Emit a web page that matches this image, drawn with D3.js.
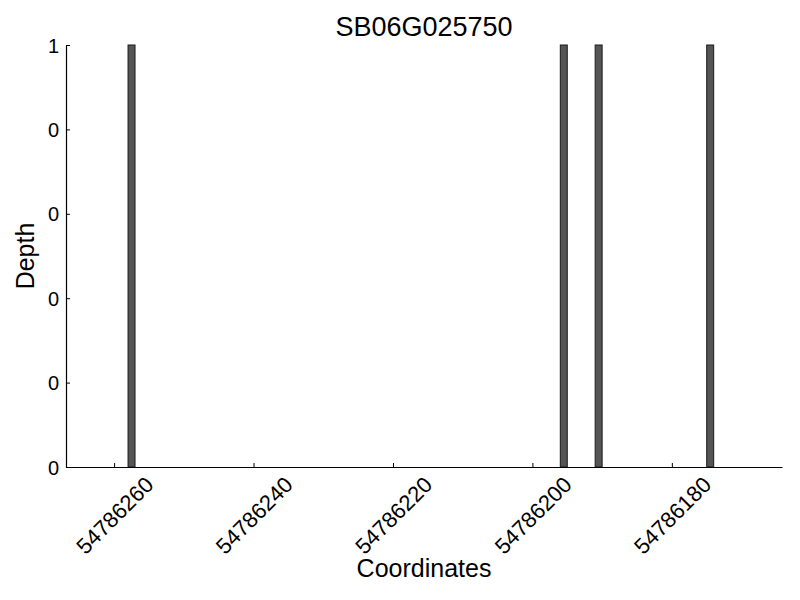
<!DOCTYPE html>
<html>
<head>
<meta charset="utf-8">
<script src="https://cdn.jsdelivr.net/npm/d3@7"></script>
<style>
  body { margin: 0; background: #fff; }
  text { font-family: "Liberation Sans", Arial, sans-serif; fill: #000; }
</style>
</head>
<body>
<div id="chart"></div>
<script>
// reads depth at each coordinate (bar width 1 bp)
var positions = [54786257, 54786195, 54786190, 54786174];
var depths = [1, 1, 1, 1];
var xTicks = [54786260, 54786240, 54786220, 54786200, 54786180];
var yTicks = [0, 0.2, 0.4, 0.6, 0.8, 1];
var xDomain = [54786266.9, 54786164.2];

var margin = {top: 45, right: 18, bottom: 133, left: 66};
var width = 800 - margin.left - margin.right;
var height = 600 - margin.top - margin.bottom;

var svg = d3.select("#chart").append("svg")
    .attr("width", 800)
    .attr("height", 600);

var g = svg.append("g")
    .attr("transform", "translate(" + margin.left + "," + margin.top + ")");

var x = d3.scaleLinear().domain(xDomain).range([0, width]);
var y = d3.scaleLinear().domain([0, 1]).range([height, 0]);

var data = positions.map(function(p, i) { return {pos: p, depth: depths[i]}; });

g.selectAll(".bar")
    .data(data).enter().append("rect")
    .attr("class", "bar")
    .attr("x", function(d) { return x(d.pos + 1); })
    .attr("width", function(d) { return x(d.pos) - x(d.pos + 1); })
    .attr("y", function(d) { return y(d.depth); })
    .attr("height", function(d) { return y(0) - y(d.depth); })
    .attr("fill", "#555555")
    .attr("stroke", "#1a1a1a")
    .attr("stroke-width", 1);

// axes, ticks point inward like the original
var xFs = 22;
var xAxis = g.append("g")
    .attr("transform", "translate(0," + height + ")")
    .call(d3.axisBottom(x).tickValues(xTicks).tickSizeInner(-4).tickSizeOuter(0).tickFormat(d3.format("d")));
xAxis.select(".domain").attr("stroke", "#000").attr("stroke-width", 1.2);
xAxis.selectAll(".tick line").attr("stroke", "#000");
xAxis.selectAll(".tick text")
    .style("font-size", xFs + "px")
    .attr("text-anchor", "end")
    .attr("dy", 0)
    .attr("y", 0)
    .attr("transform", function() {
        // center the rotated box on the tick
        var L = this.getComputedTextLength(), h = 0.72 * xFs;
        var dx = (L + h) / (2 * Math.SQRT2);
        var dy = 8 + h / Math.SQRT2;
        return "translate(" + dx + "," + dy + ") rotate(-45)";
    });

var yAxis = g.append("g")
    .call(d3.axisLeft(y).tickValues(yTicks).tickSizeInner(-4).tickSizeOuter(0)
        .tickFormat(function(d) { return String(Math.floor(d)); }));
yAxis.select(".domain").attr("stroke", "#000").attr("stroke-width", 1.2);
yAxis.selectAll(".tick line").attr("stroke", "#000");
yAxis.selectAll(".tick text")
    .style("font-size", "20px")
    .attr("x", -7)
    .attr("dy", "0.35em");

svg.append("text")
    .attr("x", margin.left + width / 2)
    .attr("y", 36)
    .attr("text-anchor", "middle")
    .style("font-size", "27px")
    .text("SB06G025750");

svg.append("text")
    .attr("x", margin.left + width / 2)
    .attr("y", 577)
    .attr("text-anchor", "middle")
    .style("font-size", "25px")
    .text("Coordinates");

svg.append("text")
    .attr("transform", "translate(34," + (margin.top + height / 2) + ") rotate(-90)")
    .attr("text-anchor", "middle")
    .style("font-size", "25px")
    .text("Depth");
</script>
</body>
</html>
